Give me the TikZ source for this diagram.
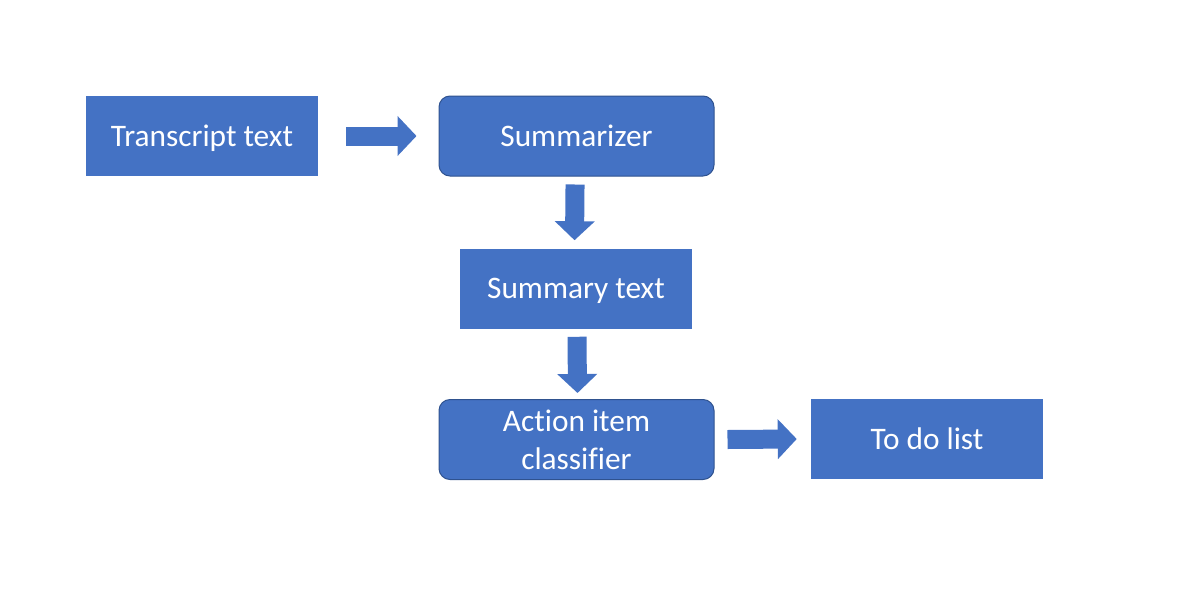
\documentclass[tikz,border=0pt]{standalone}
\usepackage{fontspec}
\setmainfont[Ligatures=NoCommon, Contextuals=NoAlternate]{Carlito}
\usetikzlibrary{arrows.meta}
\definecolor{boxblue}{HTML}{4472C4}
\definecolor{boxedge}{HTML}{2F528F}
\tikzset{
  basebox/.style={rectangle, fill=boxblue, draw=none, text=white, align=center,
    minimum width=174pt, minimum height=60pt, inner sep=0pt,
    font=\fontsize{23.5}{28.5}\selectfont},
  plainbox/.style={basebox, text height=19pt, text depth=4pt},
  roundbox/.style={basebox, rounded corners=8.25pt, draw=boxedge, line width=0.75pt,
    minimum width=206.25pt},
  blockarrow/.style={boxblue, line width=14.25pt, -{Triangle[width=29.25pt, length=14.25pt]}}
}
\begin{document}
\begin{tikzpicture}[x=0.75pt, y=-0.75pt]
\useasboundingbox (0,0) rectangle (1182,604);
\node[plainbox] (t) at (202,136) {Transcript text};
\node[roundbox, text height=19pt, text depth=4pt] (s) at (576.5,136) {Summarizer};
\node[plainbox] (st) at (576,288.5) {Summary text};
\node[roundbox] (c) at (576.5,439.5) {Action item\\classifier};
\node[plainbox] (td) at (927,439) {To do list};
\draw[blockarrow] ([xshift=21pt]t.east) -- ([xshift=-16.5pt]s.west);
\draw[blockarrow] ([xshift=-1.1pt,yshift=-6pt]s.south) -- ([xshift=-1.1pt,yshift=6pt]st.north);
\draw[blockarrow] ([xshift=0.75pt,yshift=-6pt]st.south) -- ([xshift=0.75pt,yshift=4.5pt]c.north);
\draw[blockarrow] ([xshift=9.75pt]c.east) -- ([xshift=-10.5pt]td.west);
\end{tikzpicture}
\end{document}
